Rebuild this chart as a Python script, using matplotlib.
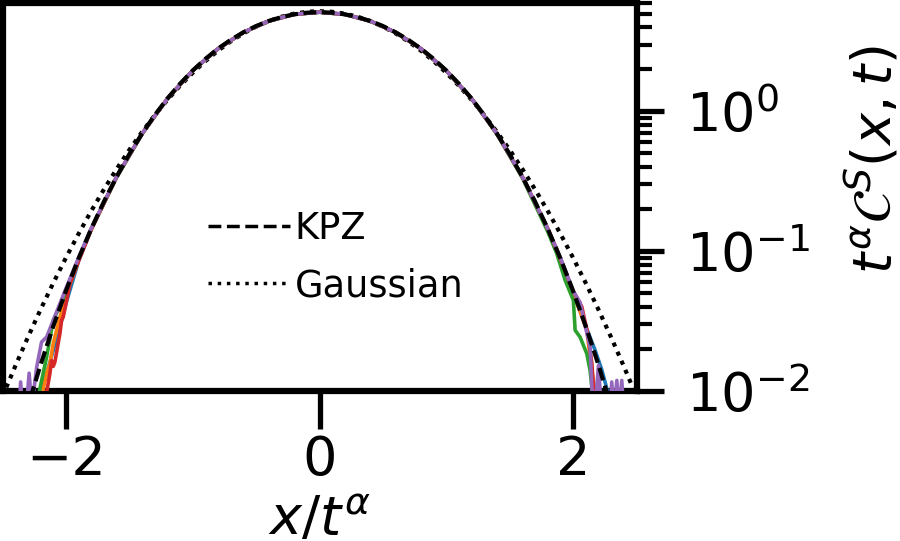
import matplotlib
matplotlib.use("Agg")
import matplotlib.pyplot as plt
from matplotlib.lines import Line2D

# ---------------- data ----------------
kpz_x = [-2.4, -2.3, -2.2, -2.1, -2.0, -1.9, -1.8, -1.7, -1.6, -1.5, -1.4, -1.3,
         -1.2, -1.1, -1.0, -0.9, -0.8, -0.7, -0.6, -0.5, -0.4, -0.3, -0.2, -0.1,
         0.0, 0.1, 0.2, 0.3, 0.4, 0.5, 0.6, 0.7, 0.8, 0.9, 1.0, 1.1, 1.2, 1.3,
         1.4, 1.5, 1.6, 1.7, 1.8, 1.9, 2.0, 2.1, 2.2, 2.3, 2.4]
kpz_y = [0.00367, 0.00773, 0.01537, 0.02897, 0.0519, 0.0886, 0.1446, 0.2263,
         0.3406, 0.4938, 0.6914, 0.9372, 1.232, 1.574, 1.957, 2.371, 2.806,
         3.246, 3.673, 4.073, 4.426, 4.719, 4.938, 5.074, 5.12, 5.074, 4.938,
         4.719, 4.426, 4.073, 3.673, 3.246, 2.806, 2.371, 1.957, 1.574, 1.232,
         0.9372, 0.6914, 0.4938, 0.3406, 0.2263, 0.1446, 0.0886, 0.0519,
         0.02897, 0.01537, 0.00773, 0.00367]

gauss_x = [-2.5, -2.4, -2.3, -2.2, -2.1, -2.0, -1.9, -1.8, -1.7, -1.6, -1.5, -1.4,
           -1.3, -1.2, -1.1, -1.0, -0.9, -0.8, -0.7, -0.6, -0.5, -0.4, -0.3, -0.2,
           -0.1, 0.0, 0.1, 0.2, 0.3, 0.4, 0.5, 0.6, 0.7, 0.8, 0.9, 1.0, 1.1, 1.2,
           1.3, 1.4, 1.5, 1.6, 1.7, 1.8, 1.9, 2.0, 2.1, 2.2, 2.3, 2.4, 2.5]
gauss_y = [0.00913, 0.01501, 0.02419, 0.0382, 0.0591, 0.0896, 0.1331, 0.1939,
           0.2765, 0.3866, 0.5296, 0.7110, 0.9352, 1.205, 1.522, 1.884, 2.285,
           2.715, 3.162, 3.608, 4.034, 4.420, 4.746, 4.993, 5.147, 5.2, 5.147,
           4.993, 4.746, 4.420, 4.034, 3.608, 3.162, 2.715, 2.285, 1.884, 1.522,
           1.205, 0.9352, 0.7110, 0.5296, 0.3866, 0.2765, 0.1939, 0.1331, 0.0896,
           0.0591, 0.0382, 0.02419, 0.01501, 0.00913]

# simulation data: shared central grid + individual tails
center_x = [-1.6, -1.4, -1.2, -1.0, -0.8, -0.6, -0.4, -0.2, 0.0,
            0.2, 0.4, 0.6, 0.8, 1.0, 1.2, 1.4, 1.6]

c0_center = [0.338, 0.688, 1.229, 1.952, 2.80, 3.668, 4.42, 4.93, 5.11,
             4.93, 4.42, 3.668, 2.80, 1.952, 1.229, 0.688, 0.338]
c0_left_x = [-2.25, -2.2, -2.15, -2.1, -2.05, -2.0, -1.9, -1.8]
c0_left_y = [0.006, 0.0095, 0.0135, 0.0195, 0.028, 0.042, 0.085, 0.143]
c0_right_x = [1.8, 1.9, 2.0, 2.1, 2.174, 2.226, 2.266, 2.3]
c0_right_y = [0.144, 0.088, 0.051, 0.029, 0.0195, 0.0142, 0.0104, 0.007]

c1_center = [0.339, 0.690, 1.231, 1.955, 2.804, 3.671, 4.424, 4.936, 5.118,
             4.936, 4.424, 3.671, 2.804, 1.955, 1.231, 0.690, 0.339]
c1_left_x = [-2.2, -2.179, -2.15, -2.126, -2.1, -2.05, -2.0, -1.9, -1.8]
c1_left_y = [0.007, 0.0104, 0.0135, 0.0157, 0.0218, 0.033, 0.048, 0.087, 0.144]
c1_right_x = [1.8, 1.9, 2.0, 2.05, 2.108, 2.134, 2.166, 2.19]
c1_right_y = [0.144, 0.089, 0.05, 0.038, 0.0272, 0.0175, 0.0106, 0.007]

c2_center = [0.337, 0.688, 1.230, 1.954, 2.803, 3.670, 4.423, 4.935, 5.117,
             4.935, 4.423, 3.670, 2.803, 1.954, 1.230, 0.686, 0.334]
c2_left_x = [-2.24, -2.205, -2.152, -2.1, -2.0, -1.9, -1.8]
c2_left_y = [0.007, 0.0104, 0.0175, 0.032, 0.05, 0.088, 0.144]
c2_right_x = [1.8, 1.871, 1.937, 2.002, 2.016, 2.055, 2.108, 2.134, 2.148, 2.17]
c2_right_y = [0.138, 0.0962, 0.062, 0.0446, 0.0272, 0.0243, 0.0185, 0.014, 0.0106, 0.007]

c3_center = [0.340, 0.690, 1.231, 1.956, 2.805, 3.672, 4.425, 4.937, 5.119,
             4.937, 4.425, 3.672, 2.805, 1.956, 1.231, 0.690, 0.340]
c3_left_x = [-2.18, -2.15, -2.126, -2.113, -2.1, -2.087, -2.047, -2.034, -2.021,
             -1.994, -1.968, -1.9, -1.8]
c3_left_y = [0.008, 0.0100, 0.0134, 0.0165, 0.0150, 0.0161, 0.0258, 0.0320, 0.0338,
             0.0446, 0.0586, 0.085, 0.143]
c3_right_x = [1.8, 1.9, 2.0, 2.069, 2.121, 2.148, 2.165, 2.18]
c3_right_y = [0.145, 0.088, 0.052, 0.040, 0.0243, 0.0157, 0.0095, 0.007]

c4_center = [0.3406, 0.6914, 1.232, 1.957, 2.806, 3.673, 4.426, 4.938, 5.12,
             4.938, 4.426, 3.673, 2.806, 1.957, 1.232, 0.6914, 0.3406]
c4_left_x = [-2.37, -2.357, -2.34, -2.31, -2.29, -2.27, -2.25, -2.231, -2.192,
             -2.152, -2.1, -2.0, -1.9, -1.8]
c4_left_y = [0.007, 0.0116, 0.007, 0.008, 0.0134, 0.008, 0.0106, 0.0147, 0.0224,
             0.0243, 0.032, 0.054, 0.09, 0.146]
c4_right_x = [1.8, 1.9, 2.0, 2.055, 2.1, 2.134, 2.148, 2.16, 2.18, 2.2, 2.22, 2.26,
              2.29, 2.305, 2.32, 2.345, 2.36, 2.384, 2.40]
c4_right_y = [0.145, 0.09, 0.052, 0.043, 0.028, 0.0206, 0.0106, 0.007, 0.009,
              0.0152, 0.008, 0.006, 0.007, 0.0116, 0.007, 0.0119, 0.007, 0.0119, 0.007]

series = [
    (c0_left_x, c0_left_y, c0_center, c0_right_x, c0_right_y, "#1f77b4"),
    (c1_left_x, c1_left_y, c1_center, c1_right_x, c1_right_y, "#ff7f0e"),
    (c2_left_x, c2_left_y, c2_center, c2_right_x, c2_right_y, "#2ca02c"),
    (c3_left_x, c3_left_y, c3_center, c3_right_x, c3_right_y, "#d62728"),
    (c4_left_x, c4_left_y, c4_center, c4_right_x, c4_right_y, "#9467bd"),
]

x_ticks = [-2, 0, 2]

# ---------------- figure ----------------
W, H = 900, 541
fig = plt.figure(figsize=(W / 100, H / 100), dpi=100)
ax = fig.add_axes([2.5 / W, (H - 391) / H, 634 / W, 388.5 / H])

FS = 39
LW = 3.0
ax.plot(gauss_x, gauss_y, color="black", lw=LW, zorder=2,
        dashes=(LW / LW, 4.1 / LW))
for lx, ly, cy, rx, ry, col in series:
    xs = list(lx) + list(center_x) + list(rx)
    ys = list(ly) + list(cy) + list(ry)
    ax.plot(xs, ys, color=col, lw=2.6, zorder=3)
ax.plot(kpz_x, kpz_y, color="black", lw=LW, zorder=4,
        dashes=(9.25 / LW, 4.0 / LW))

ax.set_yscale("log")
ax.set_xlim(-2.5, 2.5)
ax.set_ylim(0.01, 6)
ax.set_xticks(x_ticks)

for s in ax.spines.values():
    s.set_linewidth(4.5)

ax.yaxis.tick_right()
ax.yaxis.set_label_position("right")
ax.tick_params(axis="y", which="major", length=19.4, width=3.8, pad=16, labelsize=FS)
ax.tick_params(axis="y", which="minor", length=10.8, width=3.0)
ax.tick_params(axis="x", which="major", length=27, width=3.8, pad=4, labelsize=FS)

ax.set_xlabel(r"$x/t^{\alpha}$", fontsize=FS)
ax.set_ylabel(r"$t^{\alpha}\mathcal{C}^{S}(x,t)$", fontsize=FS)
ax.xaxis.set_label_coords(0.5, -0.265)
ax.yaxis.set_label_coords(1.327, 0.595)

handles = [Line2D([], [], color="black", ls="--", lw=2.5),
           Line2D([], [], color="black", ls=":", lw=2.5)]
ax.legend(handles, ["KPZ", "Gaussian"], loc="upper left",
          bbox_to_anchor=(205 / 634, (391 - 210) / 388.5), frameon=False,
          fontsize=26.5, handlelength=2.25, handletextpad=0.12, labelspacing=0.55,
          borderpad=0, borderaxespad=0)

fig.savefig("out.png", dpi=100)
